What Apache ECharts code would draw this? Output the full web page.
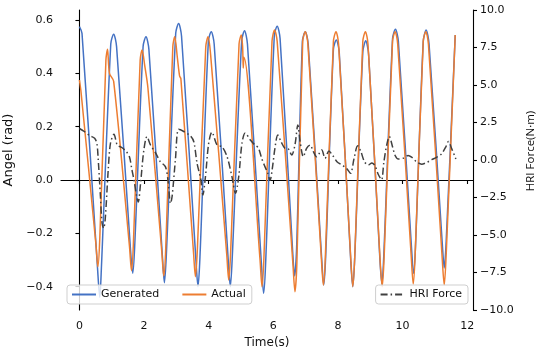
<!DOCTYPE html>
<html>
<head>
<meta charset="utf-8">
<script src="https://cdn.jsdelivr.net/npm/echarts@6/dist/echarts.min.js"></script>
<style>
html,body{margin:0;padding:0;background:#fff;}
#chart{width:546px;height:358px;}
</style>
</head>
<body>
<div id="chart"></div>
<script>
// ---- data ----
const genT = [0.00,0.08,0.56,0.63,0.68,0.97,1.06,1.15,1.58,1.65,1.71,1.97,2.06,2.15,2.57,2.63,2.69,2.98,3.07,3.16,3.61,3.67,3.73,3.99,4.08,4.17,4.61,4.67,4.73,5.02,5.11,5.20,5.64,5.70,5.76,6.03,6.12,6.21,6.60,6.66,6.72,6.90,6.99,7.08,7.50,7.56,7.62,7.86,7.95,8.04,8.40,8.46,8.52,8.77,8.86,8.95,9.30,9.36,9.42,9.69,9.78,9.87,10.28,10.34,10.40,10.64,10.73,10.82,11.23,11.29,11.35,11.63];
const genV = [0.575,0.55,-0.33,-0.44,-0.33,0.51,0.547,0.50,-0.26,-0.35,-0.25,0.50,0.537,0.49,-0.29,-0.385,-0.28,0.55,0.587,0.54,-0.31,-0.40,-0.29,0.52,0.556,0.51,-0.31,-0.40,-0.29,0.52,0.56,0.51,-0.33,-0.425,-0.32,0.54,0.577,0.53,-0.27,-0.36,-0.26,0.52,0.556,0.51,-0.30,-0.394,-0.29,0.49,0.525,0.48,-0.31,-0.40,-0.29,0.48,0.522,0.47,-0.30,-0.39,-0.28,0.53,0.565,0.52,-0.26,-0.35,-0.25,0.52,0.5625,0.51,-0.24,-0.33,-0.23,0.544];

const actT = [0.00,0.05,0.51,0.57,0.63,0.82,0.87,0.93,1.06,1.55,1.61,1.67,1.88,1.94,2.02,2.12,2.55,2.61,2.67,2.89,2.95,3.03,3.10,3.14,3.53,3.59,3.65,3.91,3.98,4.06,4.56,4.62,4.68,4.94,5.01,5.05,5.07,5.09,5.59,5.65,5.71,5.96,6.04,6.12,6.61,6.67,6.73,6.91,6.99,7.07,7.49,7.55,7.61,7.86,7.94,8.02,8.40,8.46,8.52,8.77,8.85,8.93,9.31,9.37,9.43,9.69,9.77,9.85,10.27,10.33,10.39,10.64,10.72,10.80,11.23,11.29,11.35,11.63];
const actV = [0.375,0.33,-0.24,-0.325,-0.22,0.45,0.49,0.40,0.37,-0.25,-0.34,-0.24,0.45,0.4875,0.43,0.345,-0.27,-0.36,-0.26,0.50,0.537,0.46,0.39,0.38,-0.27,-0.3625,-0.26,0.50,0.537,0.47,-0.28,-0.375,-0.27,0.51,0.544,0.50,0.42,0.46,-0.30,-0.40,-0.29,0.52,0.5625,0.52,-0.32,-0.419,-0.31,0.52,0.556,0.51,-0.30,-0.394,-0.29,0.52,0.556,0.51,-0.30,-0.40,-0.29,0.52,0.556,0.51,-0.31,-0.40,-0.29,0.52,0.556,0.51,-0.29,-0.39,-0.28,0.52,0.556,0.51,-0.30,-0.394,-0.28,0.544];

const hriT = [0.00,0.15,0.32,0.47,0.54,0.58,0.65,0.70,0.75,0.80,0.89,0.96,1.07,1.17,1.30,1.45,1.55,1.62,1.69,1.77,1.82,1.89,1.99,2.09,2.20,2.35,2.50,2.66,2.74,2.82,2.87,2.97,3.07,3.23,3.43,3.54,3.64,3.76,3.82,3.90,4.00,4.10,4.26,4.41,4.57,4.72,4.83,4.93,5.03,5.13,5.29,5.43,5.54,5.64,5.72,5.83,5.90,5.97,6.05,6.14,6.24,6.36,6.46,6.57,6.67,6.76,6.83,6.93,7.03,7.14,7.24,7.34,7.50,7.60,7.72,7.83,7.97,8.12,8.27,8.39,8.50,8.61,8.71,8.82,8.94,9.05,9.15,9.25,9.35,9.42,9.51,9.59,9.69,9.77,9.87,10.02,10.17,10.28,10.43,10.59,10.75,10.90,11.06,11.21,11.34,11.42,11.52,11.65];
const hriV = [2.10,1.90,1.62,1.45,1.10,0.10,-2.40,-4.20,-4.55,-3.90,-0.70,1.10,1.72,1.00,0.85,0.56,0.20,-0.60,-1.35,-2.40,-2.80,-1.60,0.60,1.56,1.00,0.50,-0.10,-0.44,-1.33,-2.90,-2.40,0.00,2.05,1.90,1.62,1.22,-0.22,-1.33,-2.33,-1.11,1.11,1.85,1.00,0.89,0.22,-1.11,-2.22,-1.11,1.11,1.80,1.33,1.00,0.80,0.11,-0.33,-0.89,-1.35,-0.56,0.78,1.67,1.22,0.78,0.75,0.33,1.00,2.33,1.22,0.22,0.78,1.00,0.56,0.22,0.67,0.11,0.60,0.33,-0.11,-0.33,-0.56,-0.89,0.11,0.95,0.56,-0.11,-0.33,-0.20,-0.39,-0.97,-1.32,-0.16,1.00,1.57,0.88,0.30,0.07,0.12,0.30,0.19,-0.12,-0.28,-0.16,0.02,0.19,0.42,0.88,1.23,0.76,0.07];

const xTicks = [0,2,4,6,8,10,12];
const angleTicks = [-0.4,-0.2,0.0,0.2,0.4,0.6];
const forceTicks = [-10,-7.5,-5,-2.5,0,2.5,5,7.5,10];

const seriesNames = ['Generated','Actual','HRI Force'];
// ---------------------------------------------

const FONT = 'DejaVu Sans';
const pair = (ts, vs) => ts.map((t, i) => [t, vs[i]]);
const minus = s => s.replace('-', '\u2212');

const chart = echarts.init(document.getElementById('chart'), null, {renderer: 'canvas'});

const axisLineStyle = {color: '#000', width: 1.1};
const labelStyle = {fontFamily: FONT, fontSize: 11, color: '#111'};

const legendBase = {
  orient: 'horizontal',
  top: 285,
  itemWidth: 24,
  itemHeight: 12,
  itemGap: 22,
  padding: [4, 6, 4, 4],
  backgroundColor: 'rgba(255,255,255,0.8)',
  borderColor: '#cfcfcf',
  borderWidth: 1,
  borderRadius: 3,
  itemStyle: {opacity: 0},
  textStyle: {fontFamily: FONT, fontSize: 11, color: '#111'}
};

chart.setOption({
  animation: false,
  backgroundColor: '#fff',
  grid: {left: 61, right: 73, top: 10, bottom: 48, containLabel: false, outerBoundsMode: 'none'},
  xAxis: {
    type: 'value',
    min: -0.57, max: 12.18,
    name: 'Time(s)',
    nameLocation: 'middle',
    nameGap: 27,
    nameTextStyle: {fontFamily: FONT, fontSize: 12, color: '#111'},
    axisLine: {show: true, lineStyle: axisLineStyle},
    axisTick: {show: true, length: 4, customValues: xTicks, lineStyle: axisLineStyle},
    axisLabel: Object.assign({margin: 11, customValues: xTicks, formatter: v => minus(String(v))}, labelStyle),
    splitLine: {show: false}
  },
  yAxis: [
    {
      type: 'value',
      position: 'left',
      min: -0.4875, max: 0.6375,
      name: 'Angel (rad)',
      nameLocation: 'middle',
      nameRotate: 90,
      nameGap: 38,
      nameTextStyle: {fontFamily: FONT, fontSize: 13, color: '#111', padding: [0, 0, 0, 20]},
      axisLine: {show: true, lineStyle: axisLineStyle},
      axisTick: {show: true, length: 4, customValues: angleTicks, lineStyle: axisLineStyle},
      axisLabel: Object.assign({margin: 8, customValues: angleTicks, formatter: v => minus(v.toFixed(1))}, labelStyle),
      splitLine: {show: false}
    },
    {
      type: 'value',
      position: 'right',
      min: -10, max: 10,
      name: 'HRI Force(N\u00b7m)',
      nameLocation: 'middle',
      nameRotate: 90,
      nameGap: 52,
      nameTextStyle: {fontFamily: 'Open Sans', fontSize: 11.5, color: '#111', padding: [0, 0, 0, 18]},
      axisLine: {show: true, lineStyle: axisLineStyle},
      axisTick: {show: true, length: 4, customValues: forceTicks, lineStyle: axisLineStyle},
      axisLabel: Object.assign({margin: 7, customValues: forceTicks, formatter: v => minus(v.toFixed(1))}, labelStyle),
      splitLine: {show: false}
    }
  ],
  legend: [
    Object.assign({}, legendBase, {left: 67, data: [seriesNames[0], seriesNames[1]]}),
    Object.assign({}, legendBase, {right: 78, data: [seriesNames[2]]})
  ],
  series: [
    {
      name: seriesNames[0], type: 'line', yAxisIndex: 0,
      data: pair(genT, genV), symbol: 'none', smooth: 0.3,
      lineStyle: {color: '#4472C4', width: 1.5}, itemStyle: {color: '#4472C4'}, z: 2
    },
    {
      name: seriesNames[1], type: 'line', yAxisIndex: 0,
      data: pair(actT, actV), symbol: 'none', smooth: 0.3,
      lineStyle: {color: '#ED7D31', width: 1.5}, itemStyle: {color: '#ED7D31'}, z: 3
    },
    {
      name: seriesNames[2], type: 'line', yAxisIndex: 1,
      data: pair(hriT, hriV), symbol: 'none', smooth: 0.3,
      lineStyle: {color: '#404040', width: 1.5, type: [7, 3, 1.5, 3]}, itemStyle: {color: '#404040'}, z: 4
    }
  ]
});
</script>
</body>
</html>
